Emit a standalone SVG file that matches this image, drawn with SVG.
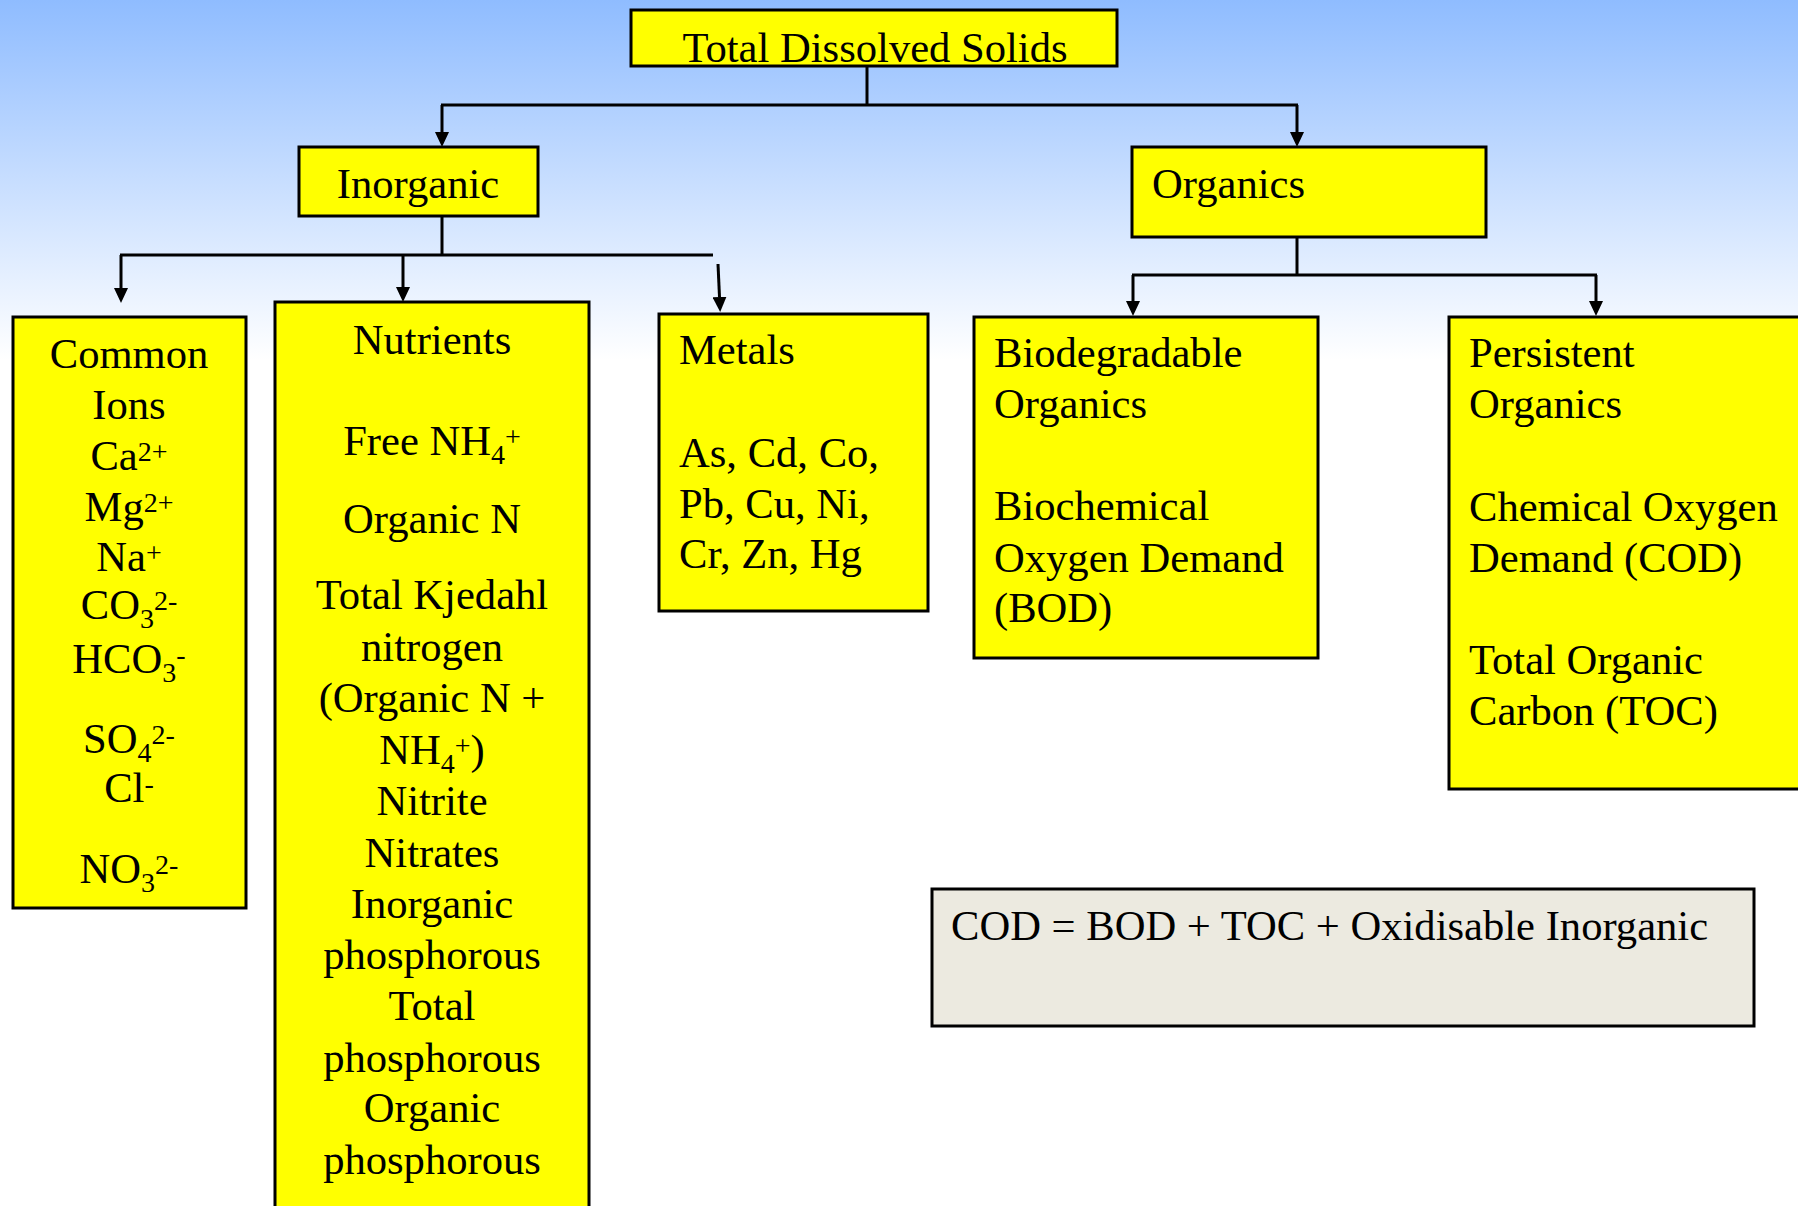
<svg xmlns="http://www.w3.org/2000/svg" width="1798" height="1206" viewBox="0 0 1798 1206">
  <defs>
    <linearGradient id="sky" x1="0" y1="0" x2="0" y2="360" gradientUnits="userSpaceOnUse">
      <stop offset="0" stop-color="#8FBCFF"/>
      <stop offset="1" stop-color="#FFFFFF"/>
    </linearGradient>
    <marker id="arrow" markerUnits="userSpaceOnUse" markerWidth="15" markerHeight="14" refX="0" refY="7" orient="auto">
      <path d="M0,0 L15,7 L0,14 z" fill="#000"/>
    </marker>
    <style>
      .box { fill: #FFFF00; stroke: #000; stroke-width: 3; }
      .note { fill: #ECEAE0; stroke: #000; stroke-width: 3; }
      .t { font-family: "Liberation Serif", "Times New Roman", serif; font-size: 42.6px; fill: #000; }
      .c { text-anchor: middle; }
      .s { font-size: 28px; }
      .wire { stroke: #000; stroke-width: 3; fill: none; }
      .arr { stroke: #000; stroke-width: 3; fill: none; marker-end: url(#arrow); }
    </style>
  </defs>

  <!-- background -->
  <rect x="0" y="0" width="1798" height="1206" fill="#FFFFFF"/>
  <rect x="0" y="0" width="1798" height="360" fill="url(#sky)"/>

  <!-- connectors -->
  <g id="connectors">
    <line class="wire" x1="867" y1="66" x2="867" y2="105"/>
    <line class="wire" x1="441" y1="105" x2="1298" y2="105"/>
    <line class="arr" x1="442" y1="105" x2="442" y2="132"/>
    <line class="arr" x1="1297" y1="105" x2="1297" y2="132"/>

    <line class="wire" x1="442" y1="216" x2="442" y2="255"/>
    <line class="wire" x1="120" y1="255" x2="713" y2="255"/>
    <line class="arr" x1="121" y1="255" x2="121" y2="288"/>
    <line class="arr" x1="403" y1="255" x2="403" y2="287"/>
    <line class="arr" x1="718" y1="264" x2="719.5" y2="297"/>

    <line class="wire" x1="1297" y1="237" x2="1297" y2="275"/>
    <line class="wire" x1="1132" y1="275" x2="1597" y2="275"/>
    <line class="arr" x1="1133" y1="275" x2="1133" y2="301"/>
    <line class="arr" x1="1596" y1="275" x2="1596" y2="301"/>
  </g>

  <!-- root -->
  <g id="tds">
    <rect class="box" x="631" y="10" width="486" height="56"/>
    <text class="t c" x="875" y="62">Total Dissolved Solids</text>
  </g>

  <g id="inorganic">
    <rect class="box" x="299" y="147" width="239" height="69"/>
    <text class="t c" x="418" y="198">Inorganic</text>
  </g>

  <g id="organics">
    <rect class="box" x="1132" y="147" width="354" height="90"/>
    <text class="t" x="1152" y="198">Organics</text>
  </g>

  <!-- inorganic branches -->
  <g id="common-ions">
    <rect class="box" x="13" y="317" width="233" height="591"/>
    <text class="t c" x="129" y="368">Common</text>
    <text class="t c" x="129" y="419">Ions</text>
    <text class="t c" x="129" y="470">Ca<tspan class="s" dy="-9">2+</tspan></text>
    <text class="t c" x="129" y="521">Mg<tspan class="s" dy="-9">2+</tspan></text>
    <text class="t c" x="129" y="571">Na<tspan class="s" dy="-9">+</tspan></text>
    <text class="t c" x="129" y="619">CO<tspan class="s" dy="9">3</tspan><tspan class="s" dy="-18">2-</tspan></text>
    <text class="t c" x="129" y="673">HCO<tspan class="s" dy="9">3</tspan><tspan class="s" dy="-18">-</tspan></text>
    <text class="t c" x="129" y="753">SO<tspan class="s" dy="9">4</tspan><tspan class="s" dy="-18">2-</tspan></text>
    <text class="t c" x="129" y="802">Cl<tspan class="s" dy="-9">-</tspan></text>
    <text class="t c" x="129" y="883">NO<tspan class="s" dy="9">3</tspan><tspan class="s" dy="-18">2-</tspan></text>
  </g>

  <g id="nutrients">
    <rect class="box" x="275" y="302" width="314" height="960"/>
    <text class="t c" x="432" y="354">Nutrients</text>
    <text class="t c" x="432" y="455">Free NH<tspan class="s" dy="9">4</tspan><tspan class="s" dy="-18">+</tspan></text>
    <text class="t c" x="432" y="533">Organic N</text>
    <text class="t c" x="432" y="609">Total Kjedahl</text>
    <text class="t c" x="432" y="661">nitrogen</text>
    <text class="t c" x="432" y="712">(Organic N +</text>
    <text class="t c" x="432" y="764">NH<tspan class="s" dy="9">4</tspan><tspan class="s" dy="-18">+</tspan><tspan dy="9">)</tspan></text>
    <text class="t c" x="432" y="815">Nitrite</text>
    <text class="t c" x="432" y="867">Nitrates</text>
    <text class="t c" x="432" y="918">Inorganic</text>
    <text class="t c" x="432" y="969">phosphorous</text>
    <text class="t c" x="432" y="1020">Total</text>
    <text class="t c" x="432" y="1072">phosphorous</text>
    <text class="t c" x="432" y="1122">Organic</text>
    <text class="t c" x="432" y="1174">phosphorous</text>
  </g>

  <g id="metals">
    <rect class="box" x="659" y="314" width="269" height="297"/>
    <text class="t" x="679" y="364">Metals</text>
    <text class="t" x="679" y="467">As, Cd, Co,</text>
    <text class="t" x="679" y="518">Pb, Cu, Ni,</text>
    <text class="t" x="679" y="568">Cr, Zn, Hg</text>
  </g>

  <!-- organic branches -->
  <g id="biodegradable">
    <rect class="box" x="974" y="317" width="344" height="341"/>
    <text class="t" x="994" y="367">Biodegradable</text>
    <text class="t" x="994" y="418">Organics</text>
    <text class="t" x="994" y="520">Biochemical</text>
    <text class="t" x="994" y="572">Oxygen Demand</text>
    <text class="t" x="994" y="622">(BOD)</text>
  </g>

  <g id="persistent">
    <rect class="box" x="1449" y="317" width="400" height="472"/>
    <text class="t" x="1469" y="367">Persistent</text>
    <text class="t" x="1469" y="418">Organics</text>
    <text class="t" x="1469" y="521">Chemical Oxygen</text>
    <text class="t" x="1469" y="572">Demand (COD)</text>
    <text class="t" x="1469" y="674">Total Organic</text>
    <text class="t" x="1469" y="725">Carbon (TOC)</text>
  </g>

  <g id="cod-relation">
    <rect class="note" x="932" y="889" width="822" height="137"/>
    <text class="t" x="951" y="940">COD = BOD + TOC + Oxidisable Inorganic</text>
  </g>
</svg>
